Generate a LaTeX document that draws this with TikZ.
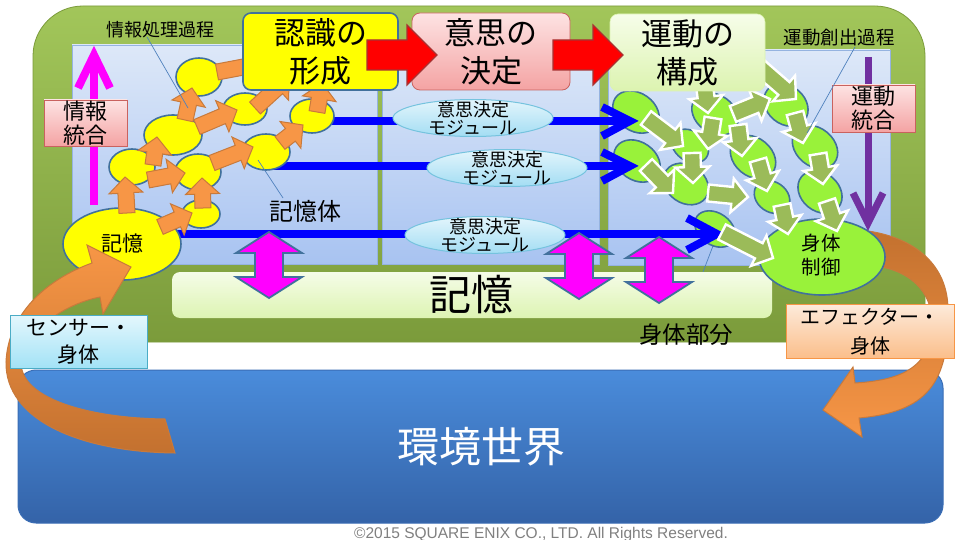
\documentclass[tikz,border=0pt]{standalone}
\usepackage{fontspec}
\newfontfamily\jp{Noto Sans CJK JP}
\newfontfamily\lib{Liberation Sans}
\usetikzlibrary{shapes.geometric}
\definecolor{envtop}{HTML}{4A8CDB}
\definecolor{envbot}{HTML}{3463A8}
\definecolor{envline}{HTML}{3A6DB5}
\definecolor{grtop}{HTML}{A2C65A}
\definecolor{grbot}{HTML}{7B9B3B}
\definecolor{paneltop}{HTML}{DDE8F8}
\definecolor{panelbot}{HTML}{A8C3F1}
\definecolor{panelline}{HTML}{95B3E0}
\definecolor{bartop}{HTML}{F5FCE8}
\definecolor{barbot}{HTML}{DDF4B2}
\definecolor{ellline}{HTML}{41719C}
\definecolor{yel}{HTML}{FFFF00}
\definecolor{limeg}{HTML}{99F23A}
\definecolor{org}{HTML}{F79646}
\definecolor{orgline}{HTML}{C87A3C}
\definecolor{orgdark}{HTML}{C3712F}
\definecolor{olv}{HTML}{9BBB59}
\definecolor{pinktop}{HTML}{FDE3E3}
\definecolor{pinkbot}{HTML}{F4A3A3}
\definecolor{pinkline}{HTML}{C9625F}
\definecolor{lgtop}{HTML}{F6FDE9}
\definecolor{lgbot}{HTML}{DCF3B0}
\definecolor{modtop}{HTML}{E3F5FC}
\definecolor{modbot}{HTML}{A3DDF3}
\definecolor{modline}{HTML}{75C3DE}
\definecolor{sentop}{HTML}{E4F7FD}
\definecolor{senbot}{HTML}{A2E2F6}
\definecolor{senline}{HTML}{4BACC6}
\definecolor{efftop}{HTML}{FDEADA}
\definecolor{effbot}{HTML}{FBBE8A}
\definecolor{effline}{HTML}{F79646}
\definecolor{bluel}{HTML}{0000FF}
\definecolor{magen}{HTML}{FF00FF}
\definecolor{purp}{HTML}{7030A0}
\definecolor{redar}{HTML}{FF0000}
\definecolor{redline}{HTML}{A83232}
\definecolor{leadc}{HTML}{4F81BD}
\definecolor{copyg}{HTML}{808080}
% block arrow: style, x1, y1, x2, y2, shaft half width, head half width, head length
\newcommand\blkarrow[8]{%
  \pgfmathsetmacro\bkang{atan2(-((#5)-(#3)),(#4)-(#2))}%
  \pgfmathsetmacro\bklen{veclen((#4)-(#2),(#5)-(#3))}%
  \pgfmathsetmacro\bkneck{\bklen-(#8)}%
  \begin{scope}[shift={(#2,#3)},rotate=\bkang]
    \path[#1] (0,-#6) -- (\bkneck,-#6) -- (\bkneck,-#7) -- (\bklen,0) -- (\bkneck,#7) -- (\bkneck,#6) -- (0,#6) -- cycle;
  \end{scope}}
% vertical double arrow: style, cx, top y, bottom y
\newcommand\dblarrow[4]{%
  \path[#1] (#2,#3) -- ({#2+33},{#3+21}) -- ({#2+14},{#3+21}) -- ({#2+14},{#4-21}) -- ({#2+33},{#4-21}) -- (#2,#4) -- ({#2-33},{#4-21}) -- ({#2-14},{#4-21}) -- ({#2-14},{#3+21}) -- ({#2-33},{#3+21}) -- cycle;}
\begin{document}
\begin{tikzpicture}[x=1pt,y=-1pt,font=\jp,
  panel/.style={top color=paneltop,bottom color=panelbot,draw=panelline,line width=0.8},
  yell/.style={ellipse,fill=yel,draw=ellline,line width=1.6,inner sep=0},
  gell/.style={ellipse,fill=limeg,draw=ellline,line width=1.6,inner sep=0},
  oarr/.style={fill=org,draw=orgline,line width=1},
  garr/.style={fill=olv,draw=white,line width=2.4,line join=miter},
  rarr/.style={fill=redar,draw=redline,line width=1.2},
  darr/.style={fill=magen,draw=ellline,line width=1.8,line join=miter},
  bline/.style={draw=bluel,line width=8},
  chev/.style={line width=8,line join=miter},
  txt/.style={inner sep=0,align=center},
  hdr/.style={rectangle,rounded corners=8,minimum width=155,minimum height=77,inner sep=0,align=center,font=\jp\fontsize{31}{38}\selectfont},
  pinkbox/.style={rectangle,top color=pinktop,bottom color=pinkbot,draw=pinkline,line width=0.8,inner sep=0,align=center,font=\jp\fontsize{22}{24}\selectfont},
  modell/.style={ellipse,top color=modtop,bottom color=modbot,draw=modline,line width=1,minimum width=160,minimum height=37,inner sep=0},
  modtext/.style={txt,font=\jp\fontsize{18}{18}\selectfont},
  leaderl/.style={draw=leadc,line width=0.7}
]
\useasboundingbox (0,0) rectangle (960,540);
\fill[white] (0,0) rectangle (960,540);

% environment
\shadedraw[rounded corners=18,top color=envtop,bottom color=envbot,draw=envline,line width=1] (18,370) rectangle (943,523);
\node[txt,text=white,font=\jp\fontsize{42}{44}\selectfont] (env) at (481,447) {環境世界};

% green body
\shadedraw[top color=grtop,bottom color=grbot,draw=grbot,line width=0.8]
  (33,150) [rounded corners=50] -- (33,6) -- (925,6) -- (925,150) [rounded corners=12] -- (925,342) -- (33,342) -- (33,150) -- cycle;

% panels
\shadedraw[panel] (72,45) rectangle (377,264);
\shadedraw[panel] (382,47) rectangle (599,264);
\shadedraw[panel] (608,50) rectangle (890,265);

% right curved arrow (effector)
\shadedraw[top color=orgdark,bottom color=org,draw=orgline,line width=1]
  (868,231) .. controls (915,238) and (948,265) .. (948,310)
  .. controls (950,385) and (925,412) .. (859,418)
  -- (862,437) -- (823,410) -- (853,367) -- (855,383)
  .. controls (905,380) and (933,365) .. (932,320)
  .. controls (931,292) and (910,270) .. (875,266) -- cycle;

% leader to body part label
\coordinate (l4a) at (703,272);
\coordinate (l4b) at (716,238);
\draw[leaderl] (l4a) -- (l4b);

% memory bar
\shade[rounded corners=8,top color=bartop,bottom color=barbot] (172,272) rectangle (772,318);
\node[txt,font=\jp\fontsize{42}{44}\selectfont] (barmem) at (471,295) {記憶};

% green ellipses
\node[gell,minimum width=50,minimum height=38,rotate=-35] (g1) at (636,112) {};
\node[gell,minimum width=50,minimum height=38,rotate=-35] (g2) at (637,161) {};
\node[gell,minimum width=40,minimum height=30,rotate=-35] (g3) at (690,146) {};
\node[gell,minimum width=48,minimum height=38,rotate=-35] (g4) at (686,184) {};
\node[gell,minimum width=50,minimum height=38,rotate=-35] (g5) at (715,114) {};
\node[gell,minimum width=50,minimum height=38,rotate=-40] (g6) at (753,157) {};
\node[gell,minimum width=38,minimum height=30,rotate=-35] (g7) at (772,197) {};
\node[gell,minimum width=48,minimum height=38,rotate=-40] (g8) at (786,105) {};
\node[gell,minimum width=50,minimum height=38,rotate=-40] (g9) at (815,147) {};
\node[gell,minimum width=48,minimum height=38,rotate=-40] (g10) at (820,192) {};
\node[gell,minimum width=44,minimum height=32,rotate=-35] (g11) at (715,229) {};

% blue decision lines
\coordinate (b1s) at (320,121); \coordinate (b1t) at (630,121);
\coordinate (b2s) at (268,166); \coordinate (b2t) at (630,166);
\coordinate (b3s) at (150,234); \coordinate (b3t) at (717,234);
\draw[bline] (b1s) -- (b1t);
\draw[bline] (b2s) -- (b2t);
\draw[bline] (b3s) -- (b3t);
\draw[chev,bluel] (602,107) -- (b1t) -- (602,136);
\draw[chev,bluel] (602,152) -- (b2t) -- (602,181);
\draw[chev,bluel] (687,218) -- (b3t) -- (687,250);

% yellow ellipses
\node[yell,minimum width=118,minimum height=72] (e1) at (122,244) {};
\node[yell,minimum width=38,minimum height=28] (e2) at (201,214) {};
\node[yell,minimum width=46,minimum height=36] (e3) at (132,167) {};
\node[yell,minimum width=46,minimum height=36] (e4) at (198,172) {};
\node[yell,minimum width=58,minimum height=40] (e5) at (173,135) {};
\node[yell,minimum width=46,minimum height=38] (e6) at (199,77) {};
\node[yell,minimum width=44,minimum height=32] (e7) at (245,109) {};
\node[yell,minimum width=48,minimum height=36] (e8) at (266,152) {};
\node[yell,minimum width=44,minimum height=34] (e9) at (312,116) {};
\node[txt,font=\jp\fontsize{21}{22}\selectfont] at (e1) {記憶};

% body control ellipse
\node[gell,minimum width=126,minimum height=76] (g12) at (822,257) {};

% decision modules
\node[modell] (m1) at (473,118) {};
\node[modell] (m2) at (507,168) {};
\node[modell] (m3) at (485,235) {};
\node[modtext] at (m1) {意思決定\\モジュール};
\node[modtext] at (m2) {意思決定\\モジュール};
\node[modtext] at (m3) {意思決定\\モジュール};

% orange block arrows (information processing)
\blkarrow{oarr}{127}{213}{125}{177}{8}{17}{16}
\blkarrow{oarr}{160}{227}{192}{213}{8}{17}{16}
\blkarrow{oarr}{203}{208}{202}{178}{8}{17}{16}
\blkarrow{oarr}{148}{180}{185}{173}{8}{17}{16}
\blkarrow{oarr}{153}{165}{157}{137}{8}{17}{16}
\blkarrow{oarr}{212}{163}{253}{147}{8}{17}{16}
\blkarrow{oarr}{197}{127}{237}{110}{8}{17}{16}
\blkarrow{oarr}{185}{120}{192}{88}{8}{17}{16}
\blkarrow{oarr}{217}{72}{270}{62}{8}{17}{16}
\blkarrow{oarr}{255}{108}{289}{77}{8}{17}{16}
\blkarrow{oarr}{280}{143}{303}{125}{8}{17}{16}
\blkarrow{oarr}{317}{112}{322}{83}{8}{17}{16}

% green block arrows (motion generation)
\blkarrow{garr}{703}{73}{708}{113}{8.5}{17}{16}
\blkarrow{garr}{758}{66}{796}{99}{8.5}{17}{16}
\blkarrow{garr}{646}{118}{683}{146}{8.5}{17}{16}
\blkarrow{garr}{713}{118}{708}{149}{8.5}{17}{16}
\blkarrow{garr}{733}{114}{770}{99}{8.5}{17}{16}
\blkarrow{garr}{738}{125}{742}{156}{8.5}{17}{16}
\blkarrow{garr}{795}{113}{803}{143}{8.5}{17}{16}
\blkarrow{garr}{646}{165}{673}{193}{8.5}{17}{16}
\blkarrow{garr}{692}{153}{693}{183}{8.5}{17}{16}
\blkarrow{garr}{758}{160}{767}{191}{8.5}{17}{16}
\blkarrow{garr}{708}{193}{748}{197}{8.5}{17}{16}
\blkarrow{garr}{818}{154}{823}{184}{8.5}{17}{16}
\blkarrow{garr}{782}{205}{788}{234}{8.5}{17}{16}
\blkarrow{garr}{827}{201}{837}{231}{8.5}{17}{16}
\blkarrow{garr}{722}{232}{773}{258}{8.5}{17}{16}
\node[txt,font=\jp\fontsize{19.5}{24}\selectfont] at (821,255) {身体\\制御};

% left curved arrow (sensor)
\shadedraw[top color=org,bottom color=orgdark,draw=orgline,line width=1]
  (92,263) .. controls (45,280) and (8,315) .. (6,362)
  .. controls (5,420) and (80,452) .. (175,453)
  -- (165,419)
  .. controls (90,418) and (30,400) .. (22,370)
  .. controls (20,335) and (60,305) .. (100,297)
  -- (103,314) -- (131,267) -- (87,245) -- cycle;

% header boxes
\node[hdr,fill=yel,draw=ellline,line width=1.6] (ninshiki) at (320.5,51.5) {認識の\\形成};
\node[hdr,top color=pinktop,bottom color=pinkbot,draw=pinkline,line width=0.8,minimum width=158] (ishi) at (491,51.5) {意思の\\決定};
\node[hdr,top color=lgtop,bottom color=lgbot,draw=lgbot,line width=0.6] (undou) at (687.5,52.5) {運動の\\構成};
\blkarrow{rarr}{367}{55}{437}{55}{15}{30}{30}
\blkarrow{rarr}{553}{55}{623}{55}{15}{30}{30}

% integration arrows
\coordinate (ia) at (94,205); \coordinate (ib) at (94,55);
\draw[magen,line width=8] (ia) -- (ib);
\draw[chev,magen] (78,88) -- (ib) -- (110,88);
\node[pinkbox,minimum width=83,minimum height=46] (joho) at (85.5,123) {情報\\統合};
\coordinate (pa) at (868,57); \coordinate (pb) at (868,223);
\draw[purp,line width=7] (pa) -- (pb);
\draw[chev,line width=7,purp] (853,193) -- (pb) -- (883,193);
\node[pinkbox,minimum width=83,minimum height=47] (undoutougou) at (873.5,108.5) {運動\\統合};

% memory exchange double arrows
\dblarrow{darr}{269}{232}{298}
\dblarrow{darr}{579}{233}{299}
\dblarrow{darr}{659}{237}{303}

% sensor / effector boxes
\node[rectangle,top color=sentop,bottom color=senbot,draw=senline,line width=1,minimum width=137,minimum height=53,inner sep=0,align=center,font=\jp\fontsize{21}{27}\selectfont] (sensor) at (78.5,342) {センサー・\\身体};
\node[rectangle,top color=efftop,bottom color=effbot,draw=effline,line width=1,minimum width=168,minimum height=54,inner sep=0,align=center,font=\jp\fontsize{20}{29}\selectfont] (effector) at (870,331.5) {エフェクター・\\身体};

% labels
\node[txt,font=\jp\fontsize{18}{20}\selectfont] (lbl1) at (160,30) {情報処理過程};
\node[txt,font=\jp\fontsize{18.5}{20}\selectfont] (lbl2) at (839,38) {運動創出過程};
\node[txt,font=\jp\fontsize{24}{26}\selectfont] (lbl3) at (305,211) {記憶体};
\node[txt,font=\jp\fontsize{23.5}{26}\selectfont] (lbl4) at (686,335) {身体部分};

% leaders
\coordinate (l1a) at (147,37); \coordinate (l1b) at (188,108);
\coordinate (l2a) at (855,47); \coordinate (l2b) at (807,133);
\coordinate (l3a) at (283,198); \coordinate (l3b) at (258,160);
\draw[leaderl] (l1a) -- (l1b);
\draw[leaderl] (l2a) -- (l2b);
\draw[leaderl] (l3a) -- (l3b);

% copyright
\node[inner sep=0,anchor=base,text=copyg,font=\lib\fontsize{15.5}{18}\selectfont] (copy) at (541,538.5) {©2015 SQUARE ENIX CO., LTD. All Rights Reserved.};
\end{tikzpicture}
\end{document}
